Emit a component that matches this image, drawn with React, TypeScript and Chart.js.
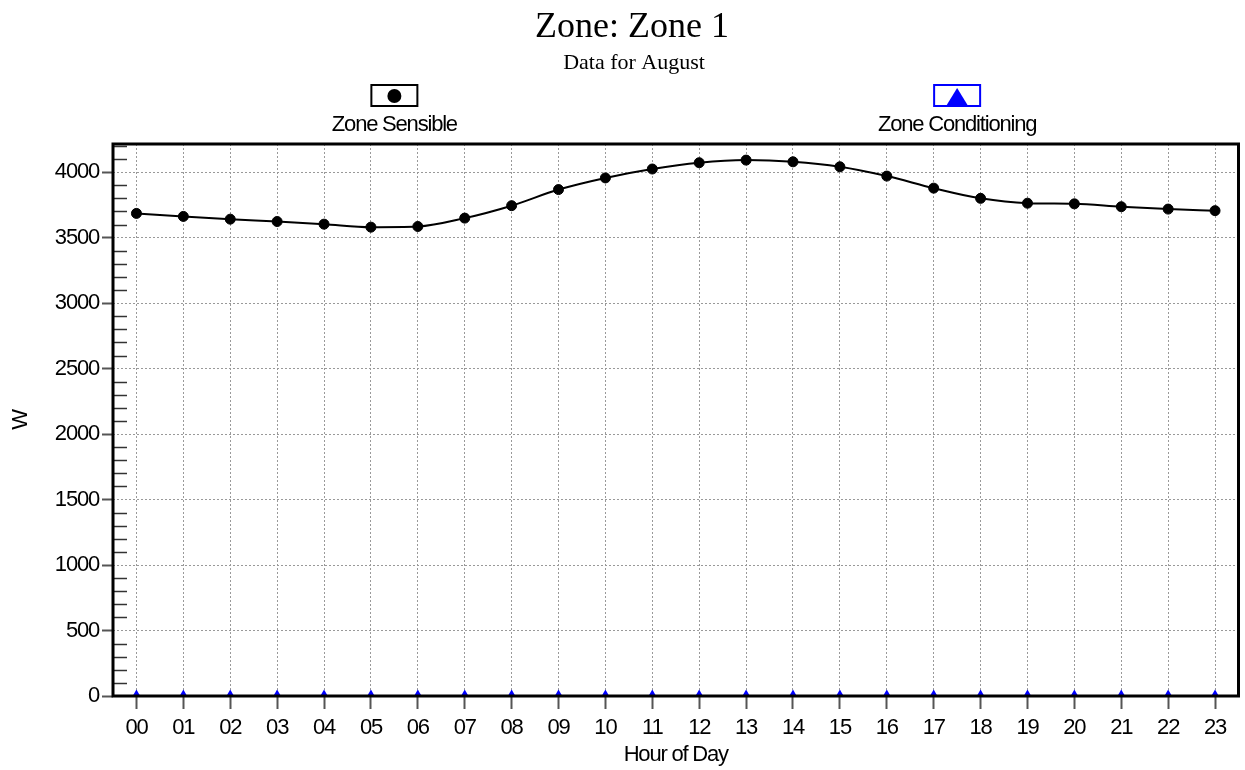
import React, { useEffect, useRef } from 'react';
import { Chart, registerables } from 'chart.js';

Chart.register(...registerables);

const hours = ['00', '01', '02', '03', '04', '05', '06', '07', '08', '09', '10', '11', '12', '13', '14', '15', '16', '17', '18', '19', '20', '21', '22', '23'];
const zoneSensible = [3685, 3662, 3641, 3623, 3603, 3580, 3585, 3649, 3744, 3867, 3956, 4024, 4072, 4092, 4079, 4041, 3970, 3878, 3800, 3763, 3758, 3736, 3718, 3706];
const zoneConditioning = [0, 0, 0, 0, 0, 0, 0, 0, 0, 0, 0, 0, 0, 0, 0, 0, 0, 0, 0, 0, 0, 0, 0, 0];
const yTicks = [0, 500, 1000, 1500, 2000, 2500, 3000, 3500, 4000];
const yMinorStep = 100;
const yMax = 4215;

const titleText = 'Zone: Zone 1';
const subtitleText = 'Data for August';
const seriesNames = ['Zone Sensible', 'Zone Conditioning'];
const xTitle = 'Hour of Day';
const yTitle = 'W';

const SANS = '"Liberation Sans", Arial, sans-serif';
const SERIF = '"Liberation Serif", "Times New Roman", serif';
const SPACING = '-1.2px';
const FS = 22;

const decor = {
  id: 'decor',
  beforeLayout(chart: any) {
    chart.ctx.letterSpacing = SPACING;
  },
  beforeDraw(chart: any) {
    const ctx = chart.ctx;
    ctx.save();
    ctx.fillStyle = '#fff';
    ctx.fillRect(0, 0, chart.width, chart.height);
    ctx.restore();
    ctx.letterSpacing = SPACING;
  },
  afterDraw(chart: any) {
    const { ctx, chartArea: a, scales } = chart;
    const y = scales.y;
    ctx.save();
    // minor ticks
    ctx.strokeStyle = '#333';
    ctx.lineWidth = 1.5;
    for (let v = yMinorStep; v < yMax; v += yMinorStep) {
      if (v % 500 === 0) continue;
      const py = Math.round(y.getPixelForValue(v)) + 0.5;
      ctx.beginPath();
      ctx.moveTo(a.left, py);
      ctx.lineTo(a.left + 14, py);
      ctx.stroke();
    }
    // plot frame
    ctx.strokeStyle = '#000';
    ctx.lineWidth = 3;
    ctx.strokeRect(a.left, a.top, a.right - a.left, a.bottom - a.top);

    // titles
    ctx.letterSpacing = '0px';
    ctx.fillStyle = '#000';
    ctx.textAlign = 'center';
    ctx.textBaseline = 'alphabetic';
    ctx.font = `36px ${SERIF}`;
    ctx.fillText(titleText, 632, 37);
    ctx.font = `22px ${SERIF}`;
    ctx.fillText(subtitleText, 634, 69);

    // legend
    const w = a.right - a.left;
    const centers = [a.left + w * 0.25, a.left + w * 0.75];
    const colors = ['#000000', '#0000ff'];
    centers.forEach((cx, i) => {
      const bx = cx - 23;
      const by = 85;
      ctx.strokeStyle = colors[i];
      ctx.lineWidth = 2;
      ctx.strokeRect(bx, by, 46, 21);
      ctx.fillStyle = colors[i];
      ctx.beginPath();
      if (i === 0) {
        ctx.arc(cx, by + 11, 7, 0, Math.PI * 2);
      } else {
        ctx.moveTo(cx, by + 3);
        ctx.lineTo(cx + 11, by + 21);
        ctx.lineTo(cx - 11, by + 21);
        ctx.closePath();
      }
      ctx.fill();
      ctx.letterSpacing = SPACING;
      ctx.fillStyle = '#000';
      ctx.font = `${FS}px ${SANS}`;
      ctx.textAlign = 'center';
      ctx.fillText(seriesNames[i], cx, 131);
    });
    ctx.restore();
    ctx.letterSpacing = SPACING;
  },
};

export default function App() {
  const ref = useRef<HTMLCanvasElement | null>(null);
  useEffect(() => {
    if (!ref.current) return;
    const chart = new Chart(ref.current, {
      type: 'line',
      data: {
        labels: hours,
        datasets: [
          {
            label: seriesNames[0],
            data: zoneSensible,
            borderColor: '#000',
            backgroundColor: '#000',
            borderWidth: 2,
            pointRadius: 5,
            pointStyle: 'circle',
            pointBorderWidth: 1,
            cubicInterpolationMode: 'monotone',
          },
          {
            label: seriesNames[1],
            data: zoneConditioning,
            borderColor: '#0000ff',
            backgroundColor: '#0000ff',
            showLine: false,
            pointStyle: 'triangle',
            pointRadius: 6.5,
            pointBorderWidth: 0,
            clip: 0,
          },
        ],
      },
      options: {
        responsive: false,
        animation: false,
        devicePixelRatio: 1,
        layout: { padding: { top: 144, right: 5, left: 0, bottom: 0 } },
        plugins: {
          legend: { display: false },
          title: { display: false },
          tooltip: { enabled: false },
        },
        scales: {
          x: {
            type: 'category',
            offset: true,
            afterFit: (s: any) => { s.height = 74; },
            grid: {
              display: true,
              color: '#999',
              lineWidth: 1,
              offset: false,
              drawTicks: true,
              tickLength: 13,
              tickColor: '#555',
              tickWidth: 2,
            },
            border: { display: false, dash: [2, 2] },
            ticks: {
              color: '#000',
              font: { family: SANS, size: FS },
              padding: 6,
              maxRotation: 0,
              autoSkip: false,
            },
            title: {
              display: true,
              text: xTitle,
              color: '#000',
              font: { family: SANS, size: FS },
              padding: { top: 0, bottom: 2 },
            },
          },
          y: {
            type: 'linear',
            min: 0,
            max: yMax,
            afterFit: (s: any) => { s.width = 113; },
            afterBuildTicks: (s: any) => { s.ticks = yTicks.map((v) => ({ value: v })); },
            grid: {
              display: true,
              color: '#999',
              lineWidth: 1,
              drawTicks: true,
              tickLength: 11,
              tickColor: '#555',
              tickWidth: 2,
            },
            border: { display: false, dash: [2, 2] },
            ticks: {
              color: '#000',
              font: { family: SANS, size: FS },
              padding: 3,
              callback: (v: any) => String(v),
            },
            title: {
              display: true,
              text: yTitle,
              color: '#000',
              font: { family: SANS, size: FS },
              padding: { top: 8, bottom: 0 },
            },
          },
        },
      },
      plugins: [decor],
    } as any);
    return () => chart.destroy();
  }, []);
  return (
    <div style={{ position: 'absolute', left: 0, top: 0, width: 1245, height: 770 }}>
      <canvas ref={ref} width={1245} height={770} />
    </div>
  );
}
